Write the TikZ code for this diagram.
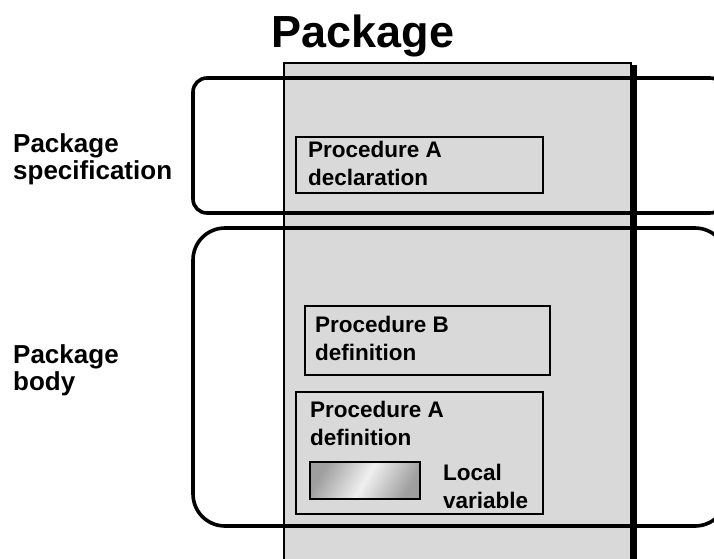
\documentclass[tikz,border=0pt]{standalone}
\usepackage{fontspec}
\setmainfont{Liberation Sans}
\definecolor{pkggray}{HTML}{D9D9D9}
\tikzset{
  region/.style={line width=3.6pt,rounded corners=#1},
  procbox/.style={draw,fill=pkggray,line width=2pt},
  boxtext/.style={anchor=north west,inner sep=0pt,align=left,font=\bfseries\fontsize{22.5}{28}\selectfont},
  sidetext/.style={anchor=north west,inner sep=0pt,align=left,font=\bfseries\fontsize{26}{27}\selectfont}
}
\begin{document}
\begin{tikzpicture}[x=1pt,y=-1pt]
\useasboundingbox(0,0)rectangle(714,558);
\draw[fill=pkggray,line width=1.3pt](284,63)rectangle(631,600);
\draw[line width=7pt](633,65)--(633,600);
\draw[region=14](193,78)rectangle(724,213);
\draw[region=32](193,228)rectangle(727,526);
\draw[procbox](296,137)rectangle(543,193);
\draw[procbox](305,306)rectangle(550,375);
\draw[procbox](296,392)rectangle(543,514);
\shadedraw[line width=2.5pt,left color=gray!75,right color=gray!75,middle color=gray!12,shading angle=60](310,462)rectangle(420,499);
\node[font=\bfseries\fontsize{45}{54}\selectfont,anchor=base](title)at(363,47){Package};
\node[sidetext](spec)at(13,133){Package\\specification};
\node[sidetext](body)at(13,344){Package\\body};
\node[boxtext](declA)at(308,141){Procedure A\\declaration};
\node[boxtext](defB)at(315,316){Procedure B\\definition};
\node[boxtext](defA)at(310,401){Procedure A\\definition};
\node[boxtext](locvar)at(443,464){Local\\variable};
\end{tikzpicture}
\end{document}
